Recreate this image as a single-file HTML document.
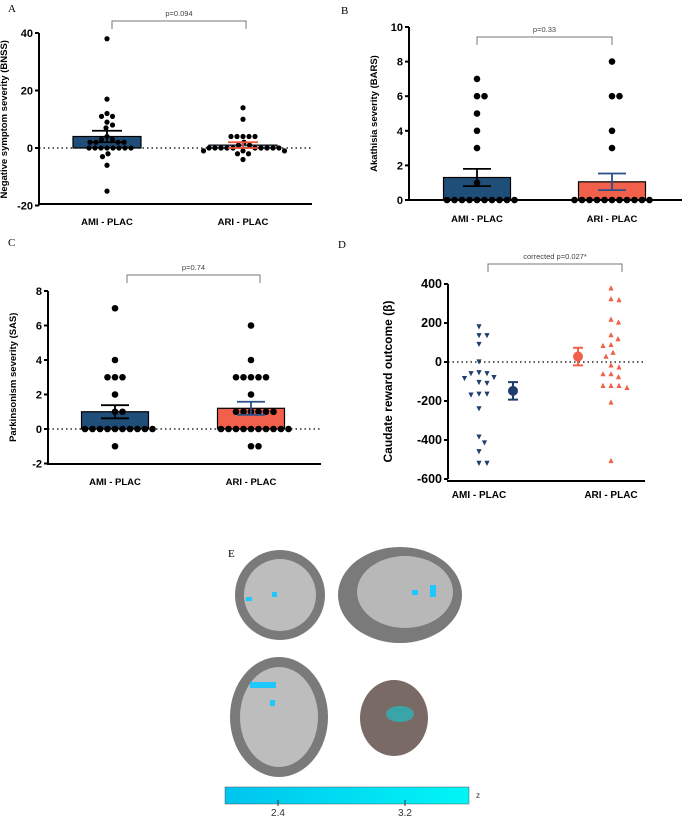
<!DOCTYPE html>
<html><head><meta charset="utf-8"><style>
html,body{margin:0;padding:0;background:#fff;}
svg{display:block;font-family:"Liberation Sans",sans-serif;}
.serif{font-family:"Liberation Serif",serif;}
</style></head><body>
<svg id="fig" width="682" height="817" viewBox="0 0 682 817">
<text class="serif" x="8" y="12" font-size="11">A</text>
<text class="serif" x="341" y="14" font-size="11">B</text>
<text class="serif" x="8" y="246" font-size="11">C</text>
<text class="serif" x="338" y="248" font-size="11">D</text>
<text class="serif" x="228" y="557" font-size="11">E</text>
<g id="brains">
  <ellipse cx="280" cy="595" rx="45" ry="45" fill="#7a7a7a"/>
  <ellipse cx="280" cy="595" rx="36" ry="36" fill="#bdbdbd"/>
  <ellipse cx="400" cy="595" rx="62" ry="48" fill="#7a7a7a"/>
  <ellipse cx="405" cy="592" rx="48" ry="36" fill="#b8b8b8"/>
  <ellipse cx="279" cy="717" rx="49" ry="60" fill="#7a7a7a"/>
  <ellipse cx="279" cy="717" rx="39" ry="50" fill="#bdbdbd"/>
  <ellipse cx="394" cy="718" rx="34" ry="38" fill="#7a6a66"/>
  <ellipse cx="400" cy="714" rx="14" ry="8" fill="#3aa4a8"/>
  <rect x="246" y="597" width="6" height="4" fill="#1ec8ff"/>
  <rect x="272" y="592" width="5" height="5" fill="#1ec8ff"/>
  <rect x="412" y="590" width="6" height="5" fill="#1ec8ff"/>
  <rect x="430" y="585" width="6" height="12" fill="#1ec8ff"/>
  <rect x="250" y="682" width="26" height="6" fill="#1ec8ff"/>
  <rect x="270" y="700" width="5" height="6" fill="#1ec8ff"/>
</g>
<defs><linearGradient id="cb" x1="0" x2="1"><stop offset="0" stop-color="#00c4ee"/><stop offset="1" stop-color="#00f6f6"/></linearGradient></defs>
<rect x="225" y="787" width="244" height="17" fill="url(#cb)" stroke="#555" stroke-width="0.5"/>
<line x1="278" y1="800" x2="278" y2="806" stroke="#333"/>
<line x1="405" y1="800" x2="405" y2="806" stroke="#333"/>
<text x="278" y="816" font-size="10" text-anchor="middle" fill="#333">2.4</text>
<text x="405" y="816" font-size="10" text-anchor="middle" fill="#333">3.2</text>
<text x="476" y="798" font-size="8" fill="#333">z</text>
</svg>
<script>
const categories = ["AMI - PLAC", "ARI - PLAC"];
const aAmi = [38,17,12,11,11,9,8,7,4,3,3,2,2,2,2,0,0,0,0,0,0,0,0,-2,-3,-6,-15];
const aAri = [14,10,4,4,4,4,4,2,1,1,0,0,0,0,0,0,0,0,0,0,-1,-1,-1,-2,-2,-4];
const aMeans = [4, 1];
const aSem = [2, 1];
const aTicks = [-20, 0, 20, 40];
const bAmi = [7,6,6,5,4,3,1,0,0,0,0,0,0,0,0,0,0];
const bAri = [8,6,6,4,3,0,0,0,0,0,0,0,0,0,0,0];
const bMeans = [1.3, 1.05];
const bSem = [0.5, 0.48];
const bTicks = [0, 2, 4, 6, 8, 10];
const cAmi = [7,4,3,3,3,2,1,1,0,0,0,0,0,0,0,0,0,0,-1];
const cAri = [6,4,3,3,3,3,3,2,1,1,1,1,1,1,0,0,0,0,0,0,0,0,0,0,-1,-1];
const cMeans = [1.0, 1.2];
const cSem = [0.38, 0.38];
const cTicks = [-2, 0, 2, 4, 6, 8];
const dAmi = [180,135,135,90,0,-55,-60,-60,-80,-85,-105,-110,-165,-165,-170,-240,-385,-415,-460,-520,-520];
const dAri = [380,325,320,220,205,140,120,90,85,50,30,-15,-25,-60,-60,-75,-120,-120,-120,-130,-205,-505];
const dMeans = [-148, 28];
const dSem = [45, 45];
const dTicks = [-600, -400, -200, 0, 200, 400];

const NS = "http://www.w3.org/2000/svg";
const svg = document.getElementById("fig");
function mk(tag, attrs, parent) {
  const e = document.createElementNS(NS, tag);
  for (const k in attrs) e.setAttribute(k, attrs[k]);
  (parent || svg).appendChild(e);
  return e;
}
function txt(s, attrs, parent) { const t = mk("text", attrs, parent); t.textContent = s; return t; }

// collision-based beeswarm offsets
function swarmPos(vals, cx, y, d) {
  const placed = [];
  const out = [];
  vals.forEach(v => {
    const py = y(v);
    let k = 0, x;
    while (true) {
      const off = (k === 0) ? 0 : Math.ceil(k / 2) * (k % 2 ? 1 : -1) * 0.5;
      x = cx + off;
      if (placed.every(p => Math.hypot(p[0] - x, p[1] - py) >= d)) break;
      k++;
      if (k > 2000) break;
    }
    placed.push([x, py]);
    out.push([x, py]);
  });
  return out;
}

function axes(g, P, ticks, title, tfs) {
  const ax = mk("line", {x1:P.x0, y1:P.y(ticks[0]), x2:P.x0, y2:P.y(ticks[ticks.length-1]), stroke:"#000", "stroke-width":2}, g);
  
  
  const xa = mk("line", {x1:P.x0-1, y1:P.xaY, x2:P.x1, y2:P.xaY, stroke:"#000", "stroke-width":2}, g);
  
  
  ticks.forEach(t => {
    mk("line", {x1:P.x0-4, y1:P.y(t), x2:P.x0, y2:P.y(t), stroke:"#000", "stroke-width":2}, g);
    const l = txt(String(t), {x:P.x0-6, y:P.y(t)+4, "font-size":tfs, "font-weight":"bold", "text-anchor":"end"}, g);
    
    
  });
  const zl = mk("line", {x1:P.x0, y1:P.y(0), x2:P.x1, y2:P.y(0), stroke:"#000", "stroke-width":1.3, "stroke-dasharray":"1.5,3"}, g);
  
  
  const ym = (P.y(ticks[0]) + P.y(ticks[ticks.length-1])) / 2;
  const yt = txt(title, {x:P.titleX, y:ym, "font-size":P.titleFs, "font-weight":"bold", "text-anchor":"middle", transform:`rotate(-90 ${P.titleX} ${ym})`}, g);
  
  
  categories.forEach((c, i) => {
    const l = txt(c, {x:P.cx[i], y:P.xlY, "font-size":P.xfs, "font-weight":"bold", "text-anchor":"middle"}, g);
    
    
  });
  const b = P.br;
  const br = mk("path", {d:`M${b.x1},${b.y+8} V${b.y} H${b.x2} V${b.y+8}`, fill:"none", stroke:"#777", "stroke-width":1}, g);
  
  
  const pl = txt(b.label, {x:(b.x1+b.x2)/2, y:b.y-5, "font-size":7.5, fill:"#444", "text-anchor":"middle"}, g);
  
  
}

function swarm(vals, cx, r, y, g, cls) {
  swarmPos(vals, cx, y, 2*r + 0.6).forEach(p => {
    const c = mk("circle", {cx: p[0], cy: p[1], r: r, fill: "#000"}, g);
    
    
  });
}

function barPanel(P, ams, ars, means, sems, ticks, title, fills, errCols) {
  const g = mk("g", {});
  
  
  [0,1].forEach(i => {
    const top = P.y(means[i]), base = P.y(0);
    const bar = mk("rect", {x:P.cx[i]-P.bw/2, y:top, width:P.bw, height:base-top, fill:fills[i], stroke:"#000", "stroke-width":1.2}, g);
    
    
  });
  axes(g, P, ticks, title, P.tfs);
  swarm(ams, P.cx[0], P.r, P.y, g, 'dot-ami');
  swarm(ars, P.cx[1], P.r, P.y, g, 'dot-ari');
  [0,1].forEach(i => {
    const hi = P.y(means[i]+sems[i]), lo = P.y(means[i]-sems[i]), c = P.cx[i], w = P.ew;
    const e = mk("path", {d:`M${c-w},${hi} H${c+w} M${c},${hi} V${lo} M${c-w},${lo} H${c+w}`, stroke:errCols[i], "stroke-width":1.8, fill:"none"}, g);
    
    
  });
}

function lin(v0, p0, v1, p1) { return v => p0 + (v - v0) * (p1 - p0) / (v1 - v0); }

barPanel({name:"panel-a", x0:39, x1:312, xaY:204, y:lin(0,148,40,33), cx:[107,243], bw:68, r:2.6, ew:15,
  titleX:7, titleFs:9.5, tfs:11, xfs:9.5, xlY:225, br:{x1:112, x2:246, y:21, label:"p=0.094"}},
  aAmi, aAri, aMeans, aSem, aTicks, "Negative symptom severity (BNSS)", ["#1f4e79","#a6c0dc"], ["#000","#f0503c"]);
barPanel({name:"panel-b", x0:409, x1:682, xaY:200, y:lin(0,200,10,27), cx:[477,612], bw:67, r:3.3, ew:14,
  titleX:377, titleFs:9.5, tfs:11, xfs:9.5, xlY:222, br:{x1:477, x2:612, y:37, label:"p=0.33"}},
  bAmi, bAri, bMeans, bSem, bTicks, "Akathisia severity (BARS)", ["#1f4e79","#f0604a"], ["#000","#2a4f86"]);
barPanel({name:"panel-c", x0:48, x1:321, xaY:464, y:lin(0,429,8,291), cx:[115,251], bw:67, r:3.3, ew:14,
  titleX:16, titleFs:9.5, tfs:11, xfs:9.5, xlY:485, br:{x1:127, x2:260, y:275, label:"p=0.74"}},
  cAmi, cAri, cMeans, cSem, cTicks, "Parkinsonism severity (SAS)", ["#1f4e79","#f0604a"], ["#000","#2a4f86"]);

(function(){
  const P = {x0:448, x1:645, xaY:481, y:lin(0,362,400,284), cx:[479,611], titleX:392, titleFs:12, xfs:10, xlY:498,
    br:{x1:488, x2:622, y:264, label:"corrected p=0.027*"}};
  const g = mk("g", {});
  
  
  axes(g, P, dTicks, "Caudate reward outcome (β)", 12.5);
  function tri(vals, cx, down, col, name) {
    swarmPos(vals, cx, P.y, 8).forEach(p => {
      const x = p[0], y = p[1], s = 2.6;
      const d = down ? `M${x-s},${y-s} L${x+s},${y-s} L${x},${y+s} Z` : `M${x-s},${y+s} L${x+s},${y+s} L${x},${y-s} Z`;
      const t = mk("path", {d:d, fill:col}, g);
      
      
    });
  }
  tri(dAmi, 479, true, "#1f3e6e", "point-ami");
  tri(dAri, 611, false, "#f0604a", "point-ari");
  const mx = [513, 578], cols = ["#1f3e6e", "#f0604a"];
  [0,1].forEach(i => {
    const hi = P.y(dMeans[i]+dSem[i]), lo = P.y(dMeans[i]-dSem[i]), c = mx[i];
    const e = mk("path", {d:`M${c-5},${hi} H${c+5} M${c},${hi} V${lo} M${c-5},${lo} H${c+5}`, stroke:cols[i], "stroke-width":2, fill:"none"}, g);
    
    
    const m = mk("circle", {cx:c, cy:P.y(dMeans[i]), r:5, fill:cols[i]}, g);
    
    
  });
})();
</script>
</body></html>
